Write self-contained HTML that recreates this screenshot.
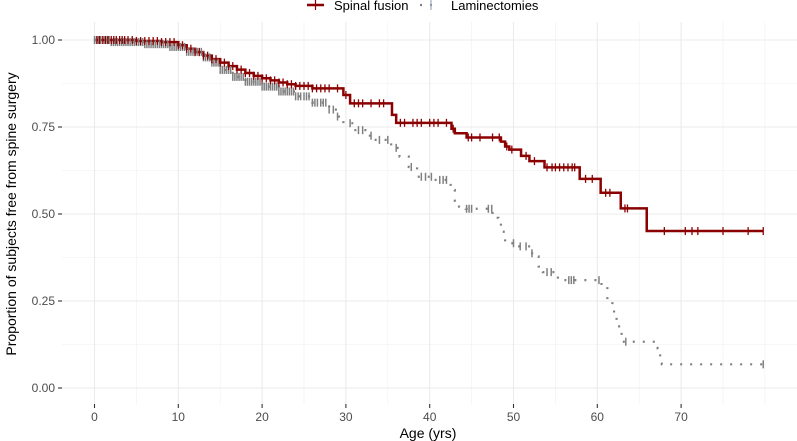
<!DOCTYPE html>
<html><head><meta charset="utf-8"><style>
body{margin:0;background:#fff;}
svg{display:block;font-family:"Liberation Sans",sans-serif;}
</style></head><body>
<svg id="chart" width="797" height="441" viewBox="0 0 797 441" xmlns="http://www.w3.org/2000/svg">
<g id="grid"></g>
<g id="axes"></g>
<g id="series"></g>
<g>
  <g>
    <line x1="307" y1="5" x2="324" y2="5" stroke="#8b0000" stroke-width="2.5"/>
    <line x1="315.5" y1="0" x2="315.5" y2="10" stroke="#8b0000" stroke-width="1.2"/>
    <text x="334" y="10" font-size="13" fill="#000">Spinal fusion</text>
  </g>
  <g>
    <line x1="420" y1="5" x2="437" y2="5" stroke="#808080" stroke-width="2.2" stroke-dasharray="2 8"/>
    <line x1="431" y1="0" x2="431" y2="10" stroke="#a0a8c0" stroke-width="1.2"/>
    <text x="451" y="10" font-size="13" fill="#000">Laminectomies</text>
  </g>
</g>
<text x="428" y="438" font-size="14" text-anchor="middle" fill="#000">Age (yrs)</text>
<text transform="translate(16,214) rotate(-90)" font-size="14" text-anchor="middle" fill="#000">Proportion of subjects free from spine surgery</text>
</svg>
<script>
const xTicks = [0,10,20,30,40,50,60,70];
const yTicks = [0,0.25,0.5,0.75,1];
const yTickLabels = ["0.00","0.25","0.50","0.75","1.00"];
const fusionTimes = [0,5,8,10,11,12,13,14,15,16,17,18,19,20,21,22,23,24,26,29.7,30.5,35.5,36,42.6,43,44.4,48.5,49,49.5,50.9,51.9,53.7,57.9,60.4,62.8,65.9];
const fusionSurv  = [1.0,0.997,0.994,0.985,0.975,0.965,0.955,0.945,0.935,0.925,0.915,0.905,0.897,0.89,0.884,0.878,0.873,0.868,0.861,0.842,0.818,0.785,0.762,0.745,0.732,0.72,0.708,0.694,0.685,0.667,0.652,0.634,0.601,0.561,0.516,0.451];
const fusionEnd = 79.8;
const fusionCensor = [0.3,0.6,1,1.3,1.6,2,2.3,2.6,3,3.3,3.6,4,4.5,5,5.5,6,6.5,7,7.5,8,8.5,9,9.5,10,10.5,11,11.5,12,12.5,13,13.5,14,14.5,15,15.5,16,16.5,17,17.5,18,18.5,19,19.5,20,20.5,21,21.5,22,22.5,23,23.5,24,24.5,25,25.5,26,26.5,27,27.5,28,29,30,31,31.5,32,33,34,34.5,36.5,37,38,38.5,39,40,40.5,41,42,42.8,44.6,45,46,47.5,48.3,49.2,49.8,51.5,52.5,54,54.6,55,55.5,56,56.5,57,57.3,58.6,59.4,61,61.5,63.3,63.6,68,70.5,71.3,72,75,78,79.8];
const lamiTimes = [0,2,6,9,11,13,14,15,16.5,18,20,22,24,26,28,29,29.7,31,32.5,33.4,35.4,36.4,37.5,38.5,40.5,42.5,43,43.5,44.3,47.5,48.2,48.5,49,50.5,52,52.5,53,53.5,55.3,60.5,61.2,61.8,62,62.3,62.6,62.9,67.2,67.5,67.7];
const lamiSurv  = [1.0,0.994,0.988,0.98,0.966,0.95,0.935,0.914,0.894,0.88,0.866,0.852,0.838,0.82,0.8,0.78,0.761,0.741,0.725,0.713,0.69,0.665,0.635,0.607,0.598,0.569,0.538,0.521,0.515,0.489,0.473,0.449,0.416,0.407,0.387,0.378,0.349,0.333,0.31,0.291,0.251,0.224,0.205,0.177,0.16,0.133,0.114,0.085,0.068];
const lamiEnd = 79.8;
const lamiCensor = [0,0.25,0.5,0.75,1,1.25,1.5,1.75,2,2.25,2.5,2.75,3,3.25,3.5,3.75,4,4.25,4.5,4.75,5,5.25,5.5,5.75,6,6.25,6.5,6.75,7,7.25,7.5,7.75,8,8.25,8.5,8.75,9,9.25,9.5,9.75,10,10.25,10.5,10.75,11,11.25,11.5,11.75,12,12.25,12.5,12.75,13,13.25,13.5,13.75,14,14.25,14.5,14.75,15,15.25,15.5,15.75,16,16.25,16.5,16.75,17,17.25,17.5,17.75,18,18.25,18.5,18.75,19,19.25,19.5,19.75,20,20.25,20.5,20.75,21,21.25,21.5,21.75,22,22.25,22.5,22.75,23,23.25,23.5,23.75,24,24.3,24.6,25,25.3,25.6,26,26.3,26.6,27,27.3,27.6,28,28.5,29,30.5,31.5,32,33,34,35,36,37.8,39,39.5,40.2,41.2,41.6,42,44.4,44.7,45,47,47.4,50,50.8,51.5,52.2,54,54.5,56.6,56.9,57.2,60.2,63.4,79.8];

const NS="http://www.w3.org/2000/svg";
const X0=94.5, XS=8.38, Y0=388, YS=348;
const PL=62, PR=797, PT=22, PB=404;
function sx(v){return X0+v*XS;}
function sy(v){return Y0-v*YS;}
function mk(tag,attrs,parent){const e=document.createElementNS(NS,tag);for(const k in attrs)e.setAttribute(k,attrs[k]);parent.appendChild(e);return e;}
const grid=document.getElementById('grid'), axes=document.getElementById('axes'), series=document.getElementById('series');
for(let i=0;i<xTicks.length;i++){
  const v=xTicks[i]+5;
  const l=mk('line',{x1:sx(v),x2:sx(v),y1:PT,y2:PB,stroke:'#f0f0f0','stroke-width':0.6},grid);
  
  
}
const l80=mk('line',{x1:sx(80),x2:sx(80),y1:PT,y2:PB,stroke:'#f0f0f0','stroke-width':0.6},grid);


for(let i=0;i<yTicks.length-1;i++){
  const v=(yTicks[i]+yTicks[i+1])/2;
  const l=mk('line',{x1:PL,x2:PR,y1:sy(v),y2:sy(v),stroke:'#f0f0f0','stroke-width':0.6},grid);
  
  
}
for(const v of xTicks){
  const l=mk('line',{x1:sx(v),x2:sx(v),y1:PT,y2:PB,stroke:'#ebebeb','stroke-width':1.1},grid);
  
  
  const t=mk('line',{x1:sx(v),x2:sx(v),y1:PB,y2:PB+4,stroke:'#333','stroke-width':1.1},axes);
  
  
  const tx=mk('text',{x:sx(v),y:421,'font-size':12,'text-anchor':'middle',fill:'#4d4d4d'},axes);
  tx.textContent=String(v);
  
  
}
yTicks.forEach((v,i)=>{
  const l=mk('line',{x1:PL,x2:PR,y1:sy(v),y2:sy(v),stroke:'#ebebeb','stroke-width':1.1},grid);
  
  
  const t=mk('line',{x1:PL-4,x2:PL,y1:sy(v),y2:sy(v),stroke:'#333','stroke-width':1.1},axes);
  
  
  const tx=mk('text',{x:PL-7,y:sy(v)+4,'font-size':12,'text-anchor':'end',fill:'#4d4d4d'},axes);
  tx.textContent=yTickLabels[i];
  
  
});
function stepPath(times,surv,end){
  let d='M'+sx(times[0])+','+sy(surv[0]);
  for(let i=1;i<times.length;i++){d+=' H'+sx(times[i])+' V'+sy(surv[i]);}
  d+=' H'+sx(end);return d;
}
function survAt(times,surv,t){let s=surv[0];for(let i=0;i<times.length;i++){if(times[i]<=t)s=surv[i];}return s;}
const fp=mk('path',{d:stepPath(fusionTimes,fusionSurv,fusionEnd),fill:'none',stroke:'#8b0000','stroke-width':2.5},series);


const lp=mk('path',{d:stepPath(lamiTimes,lamiSurv,lamiEnd),fill:'none',stroke:'#808080','stroke-width':2.2,'stroke-dasharray':'2 8'},series);


for(const t of lamiCensor){
  const y=sy(survAt(lamiTimes,lamiSurv,t));
  const c=mk('line',{x1:sx(t),x2:sx(t),y1:y-4,y2:y+4,stroke:'#808080','stroke-width':1.5},series);
  
  
}
for(const t of fusionCensor){
  const y=sy(survAt(fusionTimes,fusionSurv,t));
  const c=mk('line',{x1:sx(t),x2:sx(t),y1:y-4,y2:y+4,stroke:'#8b0000','stroke-width':1.3},series);
  
  
}
</script>
</body></html>
